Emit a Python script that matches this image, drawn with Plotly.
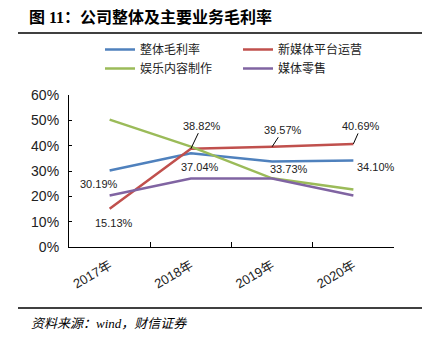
import plotly.graph_objects as go

# Gross margin by business line, 2017-2020 (%)
years = ["2017年", "2018年", "2019年", "2020年"]
overall = [30.19, 37.04, 33.73, 34.10]
new_media = [15.13, 38.82, 39.57, 40.69]
entertainment = [50.3, 39.6, 27.1, 22.7]
retail = [20.3, 27.0, 27.0, 20.3]

series = [
    ("整体毛利率", overall, "#4F81BD"),
    ("新媒体平台运营", new_media, "#C0504D"),
    ("娱乐内容制作", entertainment, "#9BBB59"),
    ("媒体零售", retail, "#8064A2"),
]

W, H = 433, 343
L, R, T, B = 69, 39, 95, 96
pw, ph = W - L - R, H - T - B


def px_x(px):
    return (px - L) / pw


def px_y(py):
    return (H - B - py) / ph


fig = go.Figure()
for name, vals, color in series:
    fig.add_trace(go.Scatter(
        x=years, y=vals, name=name, mode="lines",
        line=dict(color=color, width=2.5),
    ))

label_font = dict(family="Liberation Sans, Arial", size=11, color="#222")

# Plain value labels (no leader line)
plain_labels = [
    (0, overall, -11, -13),
    (0, new_media, 4, -14),
    (1, overall, 9, -14),
    (2, overall, 17, -7),
    (3, overall, 23, -6),
]
for i, vals, dx, dy in plain_labels:
    fig.add_annotation(
        x=years[i], y=vals[i], text=f"{vals[i]:.2f}%", showarrow=False,
        xshift=dx, yshift=dy, font=label_font,
    )

# Value labels with a short leader line
leader_labels = [
    (1, new_media, 11, -23),
    (2, new_media, 11, -17),
    (3, new_media, 8, -18),
]
for i, vals, ax, ay in leader_labels:
    fig.add_annotation(
        x=years[i], y=vals[i], text=f"{vals[i]:.2f}%", showarrow=True,
        arrowhead=0, arrowwidth=1, arrowcolor="#000", ax=ax, ay=ay,
        standoff=0, startstandoff=0, font=label_font,
    )

# Title and source
fig.add_annotation(
    xref="paper", yref="paper", x=px_x(27), y=px_y(17), xanchor="left",
    yanchor="middle", showarrow=False,
    text="<b>图 11：公司整体及主要业务毛利率</b>",
    font=dict(family="Liberation Serif, Noto Sans CJK SC", size=16, color="#000"),
)
fig.add_annotation(
    xref="paper", yref="paper", x=px_x(29), y=px_y(323), xanchor="left",
    yanchor="middle", showarrow=False,
    text="<i>资料来源：wind，财信证券</i>",
    font=dict(family="Liberation Serif, Noto Sans CJK SC", size=13, color="#000"),
)
for py in (33, 308):
    fig.add_shape(
        type="line", xref="paper", yref="paper",
        x0=px_x(18), x1=px_x(422), y0=px_y(py), y1=px_y(py),
        line=dict(color="#000", width=1.5),
    )

fig.update_layout(
    width=W, height=H,
    margin=dict(l=L, r=R, t=T, b=B),
    paper_bgcolor="white", plot_bgcolor="white",
    showlegend=True,
    legend=dict(
        orientation="h", x=px_x(100), y=px_y(35), xanchor="left", yanchor="top",
        entrywidth=93, entrywidthmode="pixels", itemwidth=30,
        font=dict(family="Liberation Sans, Noto Sans CJK SC", size=12, color="#222"),
        bgcolor="rgba(0,0,0,0)", tracegroupgap=0,
    ),
    xaxis=dict(
        type="category", tickson="boundaries", ticks="inside", ticklen=5,
        tickcolor="#000", showline=True, linecolor="#000", linewidth=1.2,
        showgrid=False, tickangle=-30, ticklabelstandoff=5,
        tickfont=dict(family="Liberation Sans, Noto Sans CJK SC", size=13, color="#222"),
        range=[-0.5, 3.5],
    ),
    yaxis=dict(
        range=[0, 60], dtick=10, ticksuffix="%", ticks="inside", ticklen=3,
        tickcolor="#000", showline=True, linecolor="#000", linewidth=1.2,
        showgrid=False, zeroline=False, ticklabelstandoff=6,
        tickfont=dict(family="Liberation Sans, Arial", size=14, color="#222"),
    ),
)

fig.write_html("out.html")
